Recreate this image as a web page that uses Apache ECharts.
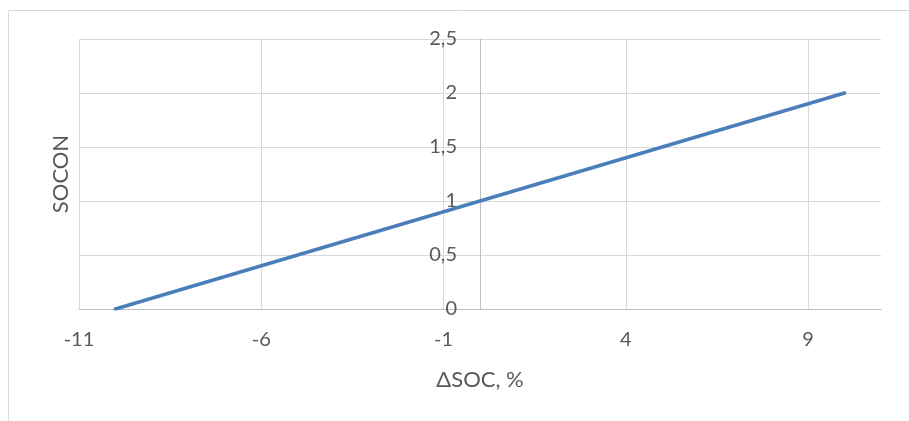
<!DOCTYPE html>
<html>
<head>
<meta charset="utf-8">
<script src="https://cdn.jsdelivr.net/npm/echarts@6/dist/echarts.min.js"></script>
<style>
  html, body { margin: 0; padding: 0; background: #ffffff; }
  #chart { width: 909px; height: 421px; }
</style>
</head>
<body>
<div id="chart"></div>
<script>
// ΔSOC (%) against SOCON
const deltaSoc = [-10, -5, 0, 5, 10];
const socon = [0, 0.5, 1, 1.5, 2];

const xTicks = { min: -11, max: 11, interval: 5 };
const yTicks = { min: 0, max: 2.5, interval: 0.5 };

const labelFont = 'Lato, "Open Sans", sans-serif';
const textColor = '#595959';
const tickSize = 20;
const titleSize = 22;

const gridBox = { left: 79, right: 28, top: 39, bottom: 112 };
const chartWidth = 909;

// the value axis crosses the horizontal one at ΔSOC = 0
const plotWidth = chartWidth - gridBox.left - gridBox.right;
const crossOffset = -plotWidth * (0 - xTicks.min) / (xTicks.max - xTicks.min);

const chart = echarts.init(document.getElementById('chart'), null, { renderer: 'canvas' });

chart.setOption({
  animation: false,
  backgroundColor: '#ffffff',
  graphic: [{
    type: 'rect',
    shape: { x: 8.5, y: 10.5, width: 1000, height: 1000 },
    style: { fill: 'none', stroke: '#d9d9d9', lineWidth: 1 },
    silent: true
  }],
  grid: Object.assign({ containLabel: false, outerBoundsMode: 'none' }, gridBox),
  xAxis: {
    type: 'value',
    min: xTicks.min,
    max: xTicks.max,
    interval: xTicks.interval,
    name: 'ΔSOC, %',
    nameLocation: 'middle',
    nameGap: 60,
    nameTextStyle: { fontFamily: labelFont, fontSize: titleSize, color: textColor },
    axisLine: { show: true, onZero: false, lineStyle: { color: '#bfbfbf', width: 1 } },
    axisTick: { show: false },
    axisLabel: {
      fontFamily: labelFont, fontSize: tickSize, color: textColor, margin: 21,
      showMaxLabel: false
    },
    splitLine: { show: true, showMaxLine: false, lineStyle: { color: '#d9d9d9', width: 1 } }
  },
  yAxis: {
    type: 'value',
    position: 'left',
    offset: crossOffset,
    min: yTicks.min,
    max: yTicks.max,
    interval: yTicks.interval,
    name: 'SOCON',
    nameLocation: 'middle',
    nameGap: 408,
    nameTextStyle: { fontFamily: labelFont, fontSize: titleSize, color: textColor },
    axisLine: { show: true, onZero: false, lineStyle: { color: '#bfbfbf', width: 1 } },
    axisTick: { show: false },
    axisLabel: {
      fontFamily: labelFont, fontSize: tickSize, color: textColor, margin: 23,
      formatter: v => String(v).replace('.', ',')
    },
    splitLine: { show: true, lineStyle: { color: '#d9d9d9', width: 1 } }
  },
  series: [{
    type: 'line',
    data: deltaSoc.map((x, i) => [x, socon[i]]),
    showSymbol: false,
    symbol: 'none',
    lineStyle: { color: '#4a7ebb', width: 3.5, cap: 'round', join: 'round' }
  }]
});
</script>
</body>
</html>
